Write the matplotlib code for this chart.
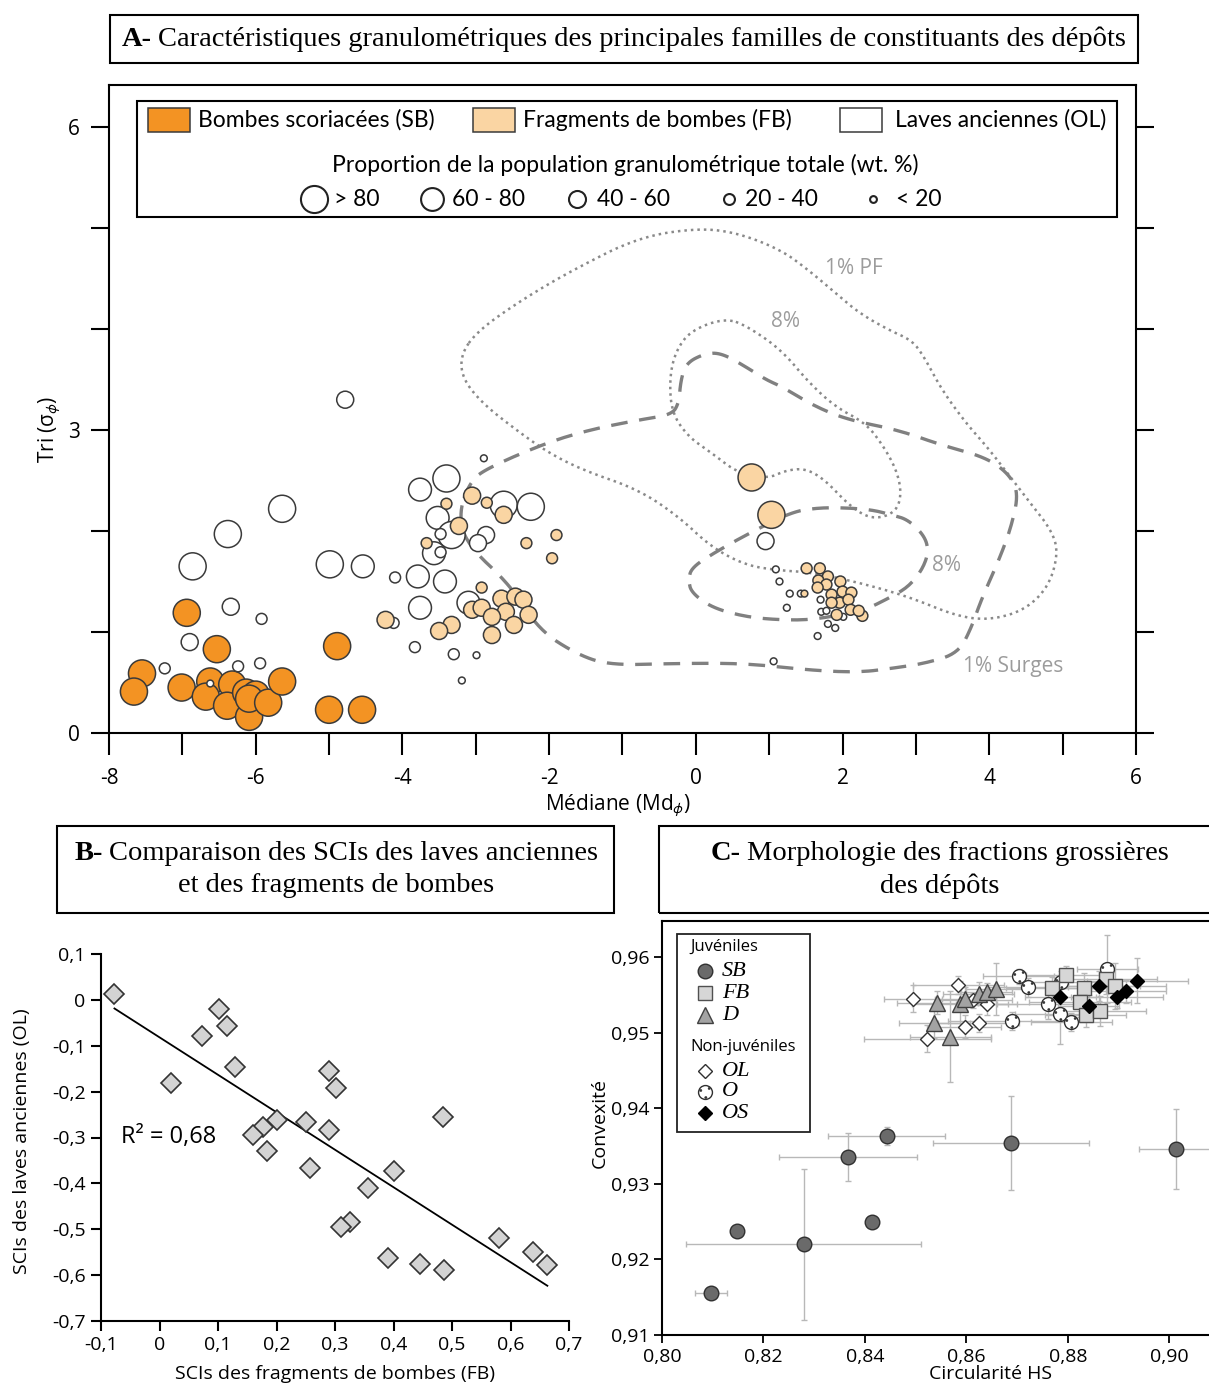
import numpy as np
import matplotlib
matplotlib.use('Agg')
import matplotlib.pyplot as plt
from matplotlib.patches import Rectangle
from matplotlib.path import Path

narrow = 'Lato'
serif = 'Liberation Serif'
plt.rcParams['font.family'] = ['Open Sans', 'DejaVu Sans']
plt.rcParams['mathtext.fontset'] = 'dejavusans'

# ---------------- data panel A (median, sorting) ----------------
# size class: 1 (>80), 2 (60-80), 3 (40-60), 4 (20-40), 5 (<20)
sb_x = [-6.94, -6.53, -7.55, -7.66, -7.01, -6.62, -6.68, -6.32, -6.39, -6.13, -6.00, -6.09, -6.09, -5.83, -5.64, -4.89, -5.00, -4.55]
sb_y = [1.19, 0.83, 0.59, 0.41, 0.45, 0.51, 0.36, 0.48, 0.27, 0.40, 0.38, 0.16, 0.34, 0.30, 0.51, 0.86, 0.23, 0.23]
sb_cls = [1] * 18

ol_x = [-4.78, -5.64, -6.38, -6.86, -4.99, -4.54, -4.10, -6.34, -5.92, -6.90, -7.24, -6.24, -5.94, -6.62, -4.12,
        -2.89, -3.40, -3.76, -2.62, -2.25, -3.52, -3.33, -3.48, -2.86, -2.97, -3.57, -3.48, -3.79, -3.42, -3.76, -3.10,
        -3.83, -3.30, -2.99, -3.19,
        0.95, 1.09, 1.14, 1.28, 1.43, 1.24, 1.70, 1.71, 1.78, 1.80, 1.90, 1.66, 2.01, 1.06]
ol_y = [3.30, 2.22, 1.97, 1.65, 1.67, 1.65, 1.54, 1.25, 1.13, 0.90, 0.64, 0.66, 0.69, 0.49, 1.09,
        2.72, 2.52, 2.41, 2.26, 2.24, 2.13, 1.96, 1.97, 1.96, 1.88, 1.78, 1.79, 1.55, 1.50, 1.24, 1.29,
        0.85, 0.78, 0.77, 0.52,
        1.90, 1.62, 1.50, 1.38, 1.38, 1.24, 1.32, 1.20, 1.21, 1.08, 1.04, 0.96, 1.15, 0.71]
ol_cls = [3, 1, 1, 1, 1, 2, 4, 3, 4, 3, 4, 4, 4, 5, 4,
          5, 1, 2, 1, 1, 2, 1, 4, 3, 3, 2, 4, 2, 2, 2, 2,
          4, 4, 5, 5,
          3, 5, 5, 5, 5, 5, 5, 5, 5, 5, 5, 5, 5, 5]

fb_x = [-4.23, -3.05, -3.40, -2.85, -2.62, -3.23, -3.67, -2.31, -1.90, -1.96, -2.92, -3.05, -2.92, -2.65, -2.46,
        -2.35, -2.59, -2.78, -2.28, -2.48, -2.78, -3.33, -3.50, 0.76, 1.03,
        1.51, 1.69, 1.80, 1.67, 1.78, 1.97, 1.66, 1.85, 2.00, 2.12, 1.96, 2.08, 1.85, 2.11, 1.92, 2.27, 2.22, 1.48]
fb_y = [1.12, 2.35, 2.27, 2.28, 2.16, 2.05, 1.88, 1.88, 1.96, 1.73, 1.44, 1.22, 1.24, 1.33, 1.35,
        1.32, 1.20, 1.15, 1.17, 1.07, 0.97, 1.07, 1.01, 2.53, 2.16,
        1.63, 1.63, 1.55, 1.51, 1.47, 1.50, 1.44, 1.37, 1.40, 1.39, 1.29, 1.32, 1.29, 1.22, 1.17, 1.16, 1.21, 1.38]
fb_cls = [3, 3, 4, 4, 3, 3, 4, 4, 4, 4, 4, 3, 3, 3, 3,
          3, 3, 3, 3, 3, 3, 3, 3, 1, 1,
          4, 4, 4, 4, 4, 4, 4, 4, 4, 4, 4, 4, 4, 4, 4, 4, 4, 5]

size_of = {1: 380, 2: 270, 3: 150, 4: 62, 5: 24}

# contour lines (data units)
pf1_x = [-3.20, -2.96, -2.37, -1.69, -0.78, 0.04, 0.58, 1.17, 1.54, 1.85, 2.22, 2.63, 2.94, 3.10, 3.35, 3.68, 3.95,
         4.22, 4.49, 4.85, 4.94, 4.81, 4.49, 4.03, 3.58, 2.90, 2.22, 1.58, 1.13, 0.68, 0.21, -0.23, -0.78, -1.53,
         -2.00, -2.45, -2.92, -3.19]
pf1_y = [3.76, 3.99, 4.29, 4.58, 4.91, 5.00, 4.95, 4.78, 4.58, 4.39, 4.16, 3.99, 3.89, 3.74, 3.40, 3.07, 2.85,
         2.60, 2.34, 2.01, 1.78, 1.45, 1.22, 1.12, 1.15, 1.35, 1.49, 1.59, 1.61, 1.66, 1.84, 2.14, 2.41, 2.60,
         2.77, 3.00, 3.27, 3.52]
pf8_x = [0.41, 0.72, 1.17, 1.54, 1.90, 2.31, 2.53, 2.72, 2.80, 2.76, 2.59, 2.35, 2.08, 1.77, 1.50, 1.22, 0.99,
         0.58, 0.22, -0.10, -0.33, -0.36, -0.27, -0.06]
pf8_y = [4.11, 4.02, 3.79, 3.47, 3.23, 3.07, 2.87, 2.63, 2.41, 2.23, 2.14, 2.13, 2.26, 2.50, 2.62, 2.60, 2.52,
         2.57, 2.77, 2.93, 3.17, 3.52, 3.79, 3.99]
su1_x = [-3.23, -3.07, -2.82, -2.05, -1.46, -0.78, -0.33, -0.23, -0.21, -0.14, 0.13, 0.35, 0.65, 0.95, 1.17, 1.63,
         2.08, 2.76, 3.35, 3.95, 4.26, 4.40, 4.30, 4.13, 3.89, 3.76, 3.58, 3.13, 2.67, 2.22, 1.58, 0.68, -0.23,
         -1.15, -1.60, -2.14, -2.51, -3.14]
su1_y = [2.19, 2.50, 2.63, 2.87, 3.00, 3.10, 3.15, 3.27, 3.47, 3.66, 3.76, 3.76, 3.64, 3.50, 3.43, 3.23,
         3.10, 3.00, 2.85, 2.73, 2.57, 2.38, 2.04, 1.71, 1.32, 1.05, 0.79, 0.69, 0.64, 0.60, 0.62, 0.69, 0.69,
         0.67, 0.77, 1.02, 1.45, 1.88]
su8_x = [-0.10, -0.06, 0.31, 0.76, 1.31, 1.67, 2.04, 2.40, 2.67, 2.90, 3.13, 3.17, 3.08, 2.90, 2.67, 2.31, 2.12,
         1.58, 1.13, 0.68, 0.22, -0.06]
su8_y = [1.51, 1.64, 1.81, 1.99, 2.19, 2.23, 2.23, 2.21, 2.16, 2.11, 1.94, 1.78, 1.61, 1.45, 1.35, 1.22, 1.19,
         1.12, 1.12, 1.15, 1.24, 1.39]

# ---------------- data panel B ----------------
scifb = [-0.077, 0.102, 0.116, 0.072, 0.129, 0.019, 0.290, 0.302, 0.200, 0.177, 0.159, 0.183, 0.251, 0.290,
         0.257, 0.485, 0.401, 0.357, 0.325, 0.311, 0.390, 0.445, 0.487, 0.580, 0.638, 0.663]
sciol = [0.013, -0.020, -0.057, -0.079, -0.146, -0.182, -0.155, -0.193, -0.262, -0.278, -0.295, -0.330, -0.266,
         -0.283, -0.366, -0.256, -0.373, -0.410, -0.484, -0.495, -0.563, -0.576, -0.588, -0.520, -0.549, -0.578]

# ---------------- data panel C (circularity, convexity) ----------------
sbc_x = [0.8443, 0.8366, 0.8688, 0.9014, 0.8147, 0.8414, 0.8279, 0.8097]
sbc_y = [0.9363, 0.9336, 0.9354, 0.9346, 0.9238, 0.9250, 0.9220, 0.9156]
sbc_xe = [0.0115, 0.0136, 0.0153, 0.0073, 0.0, 0.0, 0.0231, 0.0032]
sbc_ye = [0.0012, 0.0032, 0.0062, 0.0053, 0.0, 0.0, 0.0100, 0.0003]
olc_x = [0.8495, 0.8584, 0.8614, 0.8640, 0.8624, 0.8598, 0.8523]
olc_y = [0.9545, 0.9563, 0.9543, 0.9538, 0.9513, 0.9508, 0.9492]
olc_xe = [0.0057, 0.0090, 0.0075, 0.0060, 0.0080, 0.0070, 0.0125]
olc_ye = [0.0018, 0.0012, 0.0010, 0.0015, 0.0012, 0.0015, 0.0018]
dc_x = [0.8543, 0.8537, 0.8588, 0.8598, 0.8624, 0.8640, 0.8659, 0.8568]
dc_y = [0.9540, 0.9513, 0.9538, 0.9545, 0.9552, 0.9554, 0.9558, 0.9495]
dc_xe = [0.0080, 0.0070, 0.0095, 0.0060, 0.0070, 0.0050, 0.0060, 0.0080]
dc_ye = [0.0015, 0.0020, 0.0030, 0.0015, 0.0015, 0.0012, 0.0035, 0.0060]
oc_x = [0.8703, 0.8721, 0.8689, 0.8760, 0.8785, 0.8807, 0.8878, 0.8786]
oc_y = [0.9575, 0.9560, 0.9516, 0.9538, 0.9525, 0.9514, 0.9585, 0.9567]
oc_xe = [0.0070, 0.0080, 0.0125, 0.0100, 0.0090, 0.0080, 0.0060, 0.0080]
oc_ye = [0.0010, 0.0012, 0.0012, 0.0020, 0.0040, 0.0012, 0.0045, 0.0015]
fbc_x = [0.8797, 0.8769, 0.8831, 0.8824, 0.8835, 0.8864, 0.8876, 0.8893]
fbc_y = [0.9576, 0.9559, 0.9559, 0.9541, 0.9523, 0.9529, 0.9571, 0.9562]
fbc_xe = [0.0080, 0.0090, 0.0070, 0.0100, 0.0080, 0.0090, 0.0100, 0.0100]
fbc_ye = [0.0012, 0.0015, 0.0020, 0.0020, 0.0015, 0.0020, 0.0020, 0.0030]
osc_x = [0.8862, 0.8785, 0.8897, 0.8914, 0.8937, 0.8841]
osc_y = [0.9562, 0.9547, 0.9548, 0.9555, 0.9569, 0.9535]
osc_xe = [0.0080, 0.0070, 0.0090, 0.0080, 0.0100, 0.0060]
osc_ye = [0.0020, 0.0015, 0.0015, 0.0015, 0.0030, 0.0015]

W, H = 1209, 1387
fig = plt.figure(figsize=(W / 100, H / 100), dpi=100)
renderer = fig.canvas.get_renderer()


def smooth_closed(xs, ys, n=3):
    p = np.column_stack([xs, ys]).astype(float)
    for _ in range(n):
        q = np.roll(p, -1, axis=0)
        new = np.empty((2 * len(p), 2))
        new[0::2] = 0.75 * p + 0.25 * q
        new[1::2] = 0.25 * p + 0.75 * q
        p = new
    p = np.vstack([p, p[:1]])
    return p[:, 0], p[:, 1]


def boxed_title(x0, y0, w, h, lines, cx, fs=20.5):
    fig.patches.append(Rectangle((x0 / W, 1 - (y0 + h) / H), w / W, h / H, transform=fig.transFigure,
                                 fill=False, edgecolor='black', linewidth=1.5))
    for bold, rest, cy in lines:
        y = 1 - cy / H
        t1 = fig.text(0, y, bold, fontsize=fs, family=serif, weight='bold', va='center')
        t2 = fig.text(0, y, rest, fontsize=fs, family=serif, va='center')
        w1 = t1.get_window_extent(renderer).width if bold else 0
        gap = fs * 0.3 if bold else 0
        w2 = t2.get_window_extent(renderer).width
        start = cx - (w1 + gap + w2) / 2
        t1.set_x(start / W)
        t2.set_x((start + w1 + gap) / W)


# ================= Panel A =================
axA = fig.add_axes([109 / W, 1 - 733 / H, 1027 / W, 648 / H])
axA.set_xlim(-8, 6)
axA.set_ylim(0, 6.416)

for cx_, cy_ in [(pf1_x, pf1_y), (pf8_x, pf8_y)]:
    sx, sy = smooth_closed(cx_, cy_)
    axA.plot(sx, sy, color='#8a8a8a', lw=1.8, ls=(0, (1, 1.6)), zorder=1)
for cx_, cy_ in [(su1_x, su1_y), (su8_x, su8_y)]:
    sx, sy = smooth_closed(cx_, cy_)
    axA.plot(sx, sy, color='#808080', lw=2.4, ls=(0, (5, 3.5)), zorder=1)

axA.scatter(sb_x, sb_y, s=[size_of[c] for c in sb_cls], color='#f39323', edgecolor='#3a3a3a', lw=1.1, zorder=3)
axA.scatter(ol_x, ol_y, s=[size_of[c] for c in ol_cls], color='white', edgecolor='#3a3a3a', lw=1.1, zorder=4)
axA.scatter(fb_x, fb_y, s=[size_of[c] for c in fb_cls], color='#fad5a3', edgecolor='#3a3a3a', lw=1.1, zorder=5)

gray_txt = '#9c9c9c'
axA.text(2.15, 4.60, '1% PF', color=gray_txt, fontsize=15, ha='center', va='center')
axA.text(1.22, 4.07, '8%', color=gray_txt, fontsize=15, ha='center', va='center')
axA.text(3.42, 1.66, '8%', color=gray_txt, fontsize=15, ha='center', va='center')
axA.text(4.33, 0.66, '1% Surges', color=gray_txt, fontsize=15, ha='center', va='center')

xt = list(range(-8, 7))
axA.set_xticks(xt)
axA.set_xticklabels([str(v) if v % 2 == 0 else '' for v in xt])
axA.set_yticks(range(0, 7))
axA.set_yticklabels(['0', '', '', '3', '', '', '6'])
axA.tick_params(axis='x', direction='out', length=16, width=1.5, pad=9, labelsize=15)
axA.tick_params(axis='y', direction='out', length=13, width=1.5, pad=8, labelsize=15, right=True)
for sp in axA.spines.values():
    sp.set_linewidth(1.5)
axA.set_xlabel('Médiane (Md$_{\\mathregular{ϕ}}$)', fontsize=15)
axA.xaxis.set_label_coords(0.495, -0.092)
axA.set_ylabel('Tri (σ$_{\\mathregular{ϕ}}$)', fontsize=15)
axA.yaxis.set_label_coords(-0.045, 0.468)


# legend of panel A
def ax_pt(px, py, x0, y0, w, h):
    return (px - x0) / w, (y0 - py) / h


def A(px, py):
    return ax_pt(px, py, 109, 733, 1027, 648)


lx, ly = A(137, 217)
rx, ry = A(1117, 101)
axA.add_patch(Rectangle((lx, ly), rx - lx, ry - ly, transform=axA.transAxes, facecolor='white',
                        edgecolor='black', lw=1.5, zorder=10, clip_on=False))
for (x1, x2, tx, col, lab) in [(148, 190, 198, '#f39323', 'Bombes scoriacées (SB)'),
                               (473, 515, 523, '#fad5a3', 'Fragments de bombes (FB)'),
                               (840, 882, 895, 'white', 'Laves anciennes (OL)')]:
    a, b = A(x1, 132)
    c, d = A(x2, 108)
    axA.add_patch(Rectangle((a, b), c - a, d - b, transform=axA.transAxes, facecolor=col,
                            edgecolor='#3a3a3a', lw=1.1, zorder=11))
    tx_, ty_ = A(tx, 120)
    axA.text(tx_, ty_, lab, transform=axA.transAxes, family=narrow, fontsize=16.5, va='center', zorder=11)
tx_, ty_ = A(625, 165)
axA.text(tx_, ty_, 'Proportion de la population granulométrique totale (wt. %)', transform=axA.transAxes,
         family=narrow, fontsize=16.5, ha='center', va='center', zorder=11)
for (cpx, tpx, cl, lab) in [(314, 334, 1, '> 80'), (432, 452, 2, '60 - 80'), (577, 597, 3, '40 - 60'),
                            (729, 745, 4, '20 - 40'), (873, 896, 5, '< 20')]:
    a, b = A(cpx, 199)
    axA.scatter([a], [b], s=size_of[cl], color='white', edgecolor='#222222', lw=1.5,
                transform=axA.transAxes, zorder=12, clip_on=False)
    a, b = A(tpx, 199)
    axA.text(a, b, lab, transform=axA.transAxes, family=narrow, fontsize=16.5, va='center', zorder=12)

boxed_title(110, 15, 1028, 48, [('A-', 'Caractéristiques granulométriques des principales familles de constituants des dépôts', 39)], 624)

# ================= Panel B =================
axB = fig.add_axes([101 / W, 1 - 1321 / H, 468 / W, 367 / H])
axB.set_xlim(-0.1, 0.7)
axB.set_ylim(-0.7, 0.1)
slope, inter = np.polyfit(scifb, sciol, 1)
xl = np.array([min(scifb), max(scifb)])
axB.plot(xl, slope * xl + inter, color='black', lw=1.3, zorder=2)
axB.plot(scifb, sciol, ls='none', marker='D', ms=10.3, mfc='#d3d3d3', mec='#333333', mew=1.2, zorder=3)
axB.text(-0.066, -0.298, 'R² = 0,68', fontsize=17, va='center', ha='left')


def comma(v, nd):
    if abs(v) < 1e-9:
        return '0'
    return f'{v:.{nd}f}'.replace('.', ',')


bx = np.round(np.arange(-0.1, 0.71, 0.1), 1)
by = np.round(np.arange(-0.7, 0.11, 0.1), 1)
axB.set_xticks(bx)
axB.set_xticklabels([comma(v, 1) for v in bx])
axB.set_yticks(by)
axB.set_yticklabels([comma(v, 1) for v in by])
axB.tick_params(direction='out', length=7, width=1.5, labelsize=14, pad=4)
axB.spines['top'].set_visible(False)
axB.spines['right'].set_visible(False)
for sp in ['left', 'bottom']:
    axB.spines[sp].set_linewidth(1.5)
axB.set_xlabel('SCIs des fragments de bombes (FB)', fontsize=14)
axB.xaxis.set_label_coords(0.5, -0.12)
axB.set_ylabel('SCIs des laves anciennes (OL)', fontsize=14)
axB.yaxis.set_label_coords(-0.15, 0.49)

boxed_title(57, 826, 557, 87, [('B-', 'Comparaison des SCIs des laves anciennes', 853),
                               ('', 'et des fragments de bombes', 886)], 336)

# ================= Panel C =================
axC = fig.add_axes([662 / W, 1 - 1335 / H, 558 / W, 414 / H])
axC.set_xlim(0.80, 0.91)
axC.set_ylim(0.91, 0.9648)
ekw = dict(fmt='none', ecolor='#b8b8b8', elinewidth=1.0, capsize=2, capthick=1.0, zorder=1)
for xs, ys, xe, ye in [(sbc_x, sbc_y, sbc_xe, sbc_ye), (olc_x, olc_y, olc_xe, olc_ye), (dc_x, dc_y, dc_xe, dc_ye),
                       (oc_x, oc_y, oc_xe, oc_ye), (fbc_x, fbc_y, fbc_xe, fbc_ye), (osc_x, osc_y, osc_xe, osc_ye)]:
    axC.errorbar(xs, ys, xerr=xe, yerr=ye, **ekw)

dots = Path.make_compound_path(*[Path.circle((cx, cy), 0.07) for cx, cy in [(-0.28, 0.12), (0.22, 0.24), (0.02, -0.30)]])

sty = {
    'SB': dict(marker='o', ms=10.5, mfc='#6a6a6a', mec='#303030', mew=1.0),
    'OL': dict(marker='D', ms=7.4, mfc='white', mec='#303030', mew=1.0),
    'D': dict(marker='^', ms=11.5, mfc='#a3a3a3', mec='#404040', mew=1.0),
    'O': dict(marker='o', ms=10, mfc='white', mec='#303030', mew=1.0),
    'FB': dict(marker='s', ms=10.5, mfc='#d6d6d6', mec='#505050', mew=1.0),
    'OS': dict(marker='D', ms=7.6, mfc='black', mec='black', mew=1.0),
}
dot_sty = dict(marker=dots, ms=9.0, mfc='#333333', mec='#333333', mew=0.3)

axC.plot(sbc_x, sbc_y, ls='none', zorder=3, **sty['SB'])
axC.plot(olc_x, olc_y, ls='none', zorder=3, **sty['OL'])
axC.plot(dc_x, dc_y, ls='none', zorder=3, **sty['D'])
axC.plot(oc_x, oc_y, ls='none', zorder=3, **sty['O'])
axC.plot(oc_x, oc_y, ls='none', zorder=3, **dot_sty)
axC.plot(fbc_x, fbc_y, ls='none', zorder=4, **sty['FB'])
axC.plot(osc_x, osc_y, ls='none', zorder=4, **sty['OS'])

cxt = np.round(np.arange(0.80, 0.901, 0.02), 2)
cyt = np.round(np.arange(0.91, 0.961, 0.01), 2)
axC.set_xticks(cxt)
axC.set_xticklabels([comma(v, 2) for v in cxt])
axC.set_yticks(cyt)
axC.set_yticklabels([comma(v, 2) for v in cyt])
axC.tick_params(direction='out', length=6, width=1.3, labelsize=14, pad=3)
axC.spines['right'].set_visible(False)
for sp in ['left', 'bottom', 'top']:
    axC.spines[sp].set_linewidth(1.5)
axC.set_xlabel('Circularité HS', fontsize=14)
axC.xaxis.set_label_coords(0.588, -0.072)
axC.set_ylabel('Convexité', fontsize=14)
axC.yaxis.set_label_coords(-0.095, 0.512)


def C(px, py):
    return ax_pt(px, py, 662, 1335, 558, 414)


a, b = C(677, 1132)
c, d = C(810, 934)
axC.add_patch(Rectangle((a, b), c - a, d - b, transform=axC.transAxes, facecolor='white',
                        edgecolor='#222222', lw=1.3, zorder=10))
for lab, py in [('Juvéniles', 947), ('Non-juvéniles', 1047)]:
    a, b = C(690, py)
    axC.text(a, b, lab, transform=axC.transAxes, fontsize=12, va='center', zorder=11)
for key, py in [('SB', 971), ('FB', 993), ('D', 1015), ('OL', 1071), ('O', 1092), ('OS', 1113)]:
    a, b = C(705, py)
    axC.plot([a], [b], transform=axC.transAxes, ls='none', zorder=11, clip_on=False, **sty[key])
    if key == 'O':
        axC.plot([a], [b], transform=axC.transAxes, ls='none', zorder=12, clip_on=False, **dot_sty)
    a, b = C(722, py)
    axC.text(a, b, key, transform=axC.transAxes, family=serif, style='italic', fontsize=16,
             va='center', zorder=11)

boxed_title(659, 826, 560, 87, [('C-', 'Morphologie des fractions grossières', 853),
                                ('', 'des dépôts', 886)], 940)

fig.savefig('out.png', dpi=100)
